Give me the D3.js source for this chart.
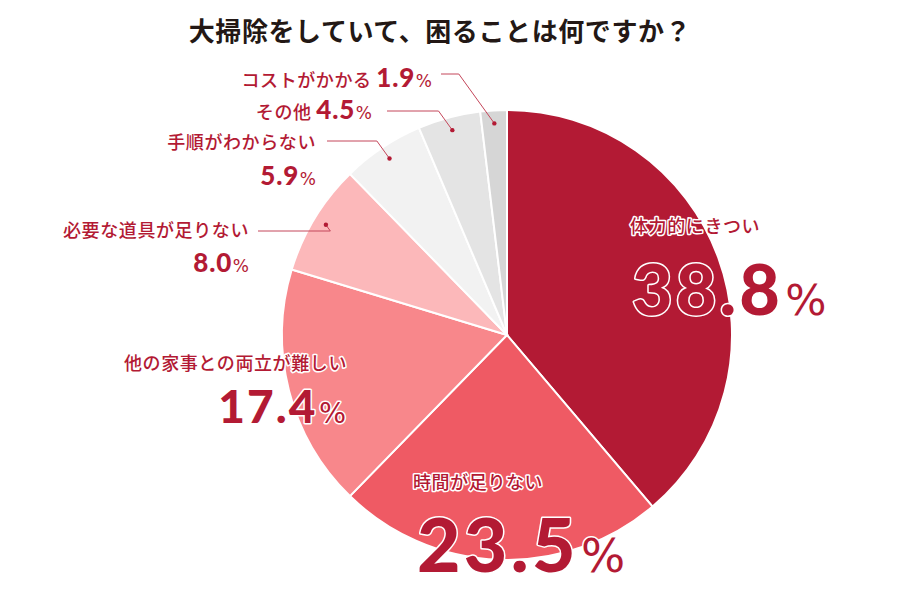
<!DOCTYPE html>
<html>
<head>
<meta charset="utf-8">
<script src="https://cdn.jsdelivr.net/npm/d3@7"></script>
<style>
  html, body { margin: 0; padding: 0; background: #fff; }
  svg { display: block; }
</style>
</head>
<body>
<div id="chart"></div>
<script>
// data
const categories = ["体力的にきつい", "時間が足りない", "他の家事との両立が難しい", "必要な道具が足りない", "手順がわからない", "その他", "コストがかかる"];
const values = [38.8, 23.5, 17.4, 8.0, 5.9, 4.5, 1.9];
const sliceColors = ["#B31A34", "#EF5A64", "#F8878B", "#FCB8BA", "#F2F2F2", "#E4E4E4", "#D6D6D6"];
const title = "大掃除をしていて、困ることは何ですか？";

const W = 900, H = 600;
const cx = 507, cy = 335, R = 225;
const red = "#B31A34";
const jp = "'Noto Sans CJK JP', 'Noto Sans', sans-serif";
const num = "Lato, 'Noto Sans', sans-serif";
const pctFont = "'DejaVu Sans', sans-serif";

// label layout (per slice index)
// big = inside pie, two lines; side1/side2 = outside with leader line
const layout = [
  { type: "big", x: 630, y1: 233, y2: 315, size: 70, anchor: "start", nx: 632 },
  { type: "big", x: 413, y1: 489, y2: 572, size: 75, anchor: "start", nx: 417 },
  { type: "big", x: 347, y1: 370, y2: 423, size: 46, anchor: "end", nx: 346 },
  { type: "side2", x: 249, y1: 237, y2: 272, lineY: 231, lineEnd: 258 },
  { type: "side2", x: 316, y1: 149, y2: 185, lineY: 141, lineEnd: 327 },
  { type: "side1", x: 372, y1: 119, lineY: 111, lineEnd: 387 },
  { type: "side1", x: 432, y1: 87, lineY: 74, lineEnd: 441 }
];

const svg = d3.select("#chart").append("svg")
  .attr("width", W)
  .attr("height", H);

svg.append("text")
  .attr("x", 440)
  .attr("y", 41)
  .attr("text-anchor", "middle")
  .attr("font-family", jp)
  .attr("font-weight", 700)
  .attr("font-size", 26)
  .attr("letter-spacing", 0.6)
  .attr("fill", "#231815")
  .text(title);

const pie = d3.pie().sort(null).value(d => d);
const arcs = pie(values);
const arc = d3.arc().innerRadius(0).outerRadius(R);

const g = svg.append("g").attr("transform", `translate(${cx},${cy})`);
g.selectAll("path")
  .data(arcs)
  .enter()
  .append("path")
  .attr("d", arc)
  .attr("fill", (d, i) => sliceColors[i])
  .attr("stroke", "#fff")
  .attr("stroke-width", 2);

// leader lines for outside labels
const dotR = 212;
arcs.forEach((a, i) => {
  const L = layout[i];
  if (L.type === "big") return;
  const mid = (a.startAngle + a.endAngle) / 2;
  const dx = cx + dotR * Math.sin(mid);
  const dy = cy - dotR * Math.cos(mid);
  let pts;
  if (Math.abs(dy - L.lineY) < 2) {
    pts = [[dx, dy], [L.lineEnd, dy]];
  } else {
    const ex = dx - (dy - L.lineY) * 0.72;
    pts = [[dx, dy], [ex, L.lineY], [L.lineEnd, L.lineY]];
  }
  svg.append("path")
    .attr("d", d3.line()(pts))
    .attr("fill", "none")
    .attr("stroke", "#C4465A")
    .attr("stroke-width", 1);
  svg.append("circle")
    .attr("cx", dx).attr("cy", dy).attr("r", 2.2)
    .attr("fill", red);
});

function addNumber(t, v, size, pctSize, ls) {
  t.append("tspan")
    .attr("font-family", num)
    .attr("font-weight", 900)
    .attr("font-size", size)
    .attr("letter-spacing", ls)
    .text(v.toFixed(1));
  t.append("tspan")
    .attr("font-family", pctFont)
    .attr("font-weight", 400)
    .attr("font-size", pctSize)
    .attr("letter-spacing", 0)
    .attr("dx", size * 0.03)
    .text("%");
}

function styled(t, strokeW) {
  return t.attr("fill", red)
    .attr("stroke", "#fff")
    .attr("stroke-width", strokeW)
    .attr("stroke-linejoin", "round")
    .attr("paint-order", "stroke");
}

arcs.forEach((a, i) => {
  const L = layout[i];
  const name = categories[i];
  const v = values[i];
  if (L.type === "big") {
    styled(svg.append("text"), 3)
      .attr("x", L.x).attr("y", L.y1)
      .attr("text-anchor", L.anchor)
      .attr("font-family", jp)
      .attr("font-weight", 500)
      .attr("font-size", 18)
      .attr("letter-spacing", 0.6)
      .text(name);
    const t = styled(svg.append("text"), 3)
      .attr("x", L.nx).attr("y", L.y2)
      .attr("text-anchor", L.anchor);
    addNumber(t, v, L.size, L.size * 0.62, L.size * 0.045);
  } else if (L.type === "side2") {
    styled(svg.append("text"), 2)
      .attr("x", L.x).attr("y", L.y1)
      .attr("text-anchor", "end")
      .attr("font-family", jp)
      .attr("font-weight", 500)
      .attr("font-size", 18)
      .attr("letter-spacing", 0.6)
      .text(name);
    const t = styled(svg.append("text"), 2)
      .attr("x", L.x).attr("y", L.y2)
      .attr("text-anchor", "end");
    addNumber(t, v, 26, 17, 0.8);
  } else {
    const t = styled(svg.append("text"), 2)
      .attr("x", L.x).attr("y", L.y1)
      .attr("text-anchor", "end");
    t.append("tspan")
      .attr("font-family", jp)
      .attr("font-weight", 500)
      .attr("font-size", 18)
      .attr("letter-spacing", 0.6)
      .text(name + " ");
    addNumber(t, v, 26, 17, 0.8);
  }
});
</script>
</body>
</html>
